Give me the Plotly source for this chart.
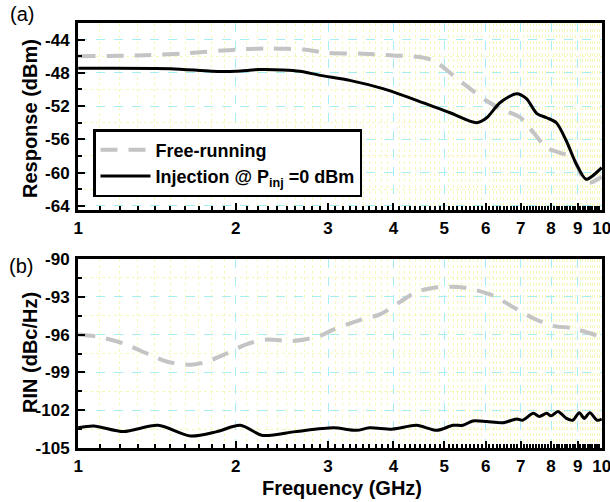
import plotly.graph_objects as go

# ---------------- data ----------------
freq_free_a = [1.0, 1.3, 1.6, 2.0, 2.3, 2.5, 2.7, 3.0, 3.5, 4.0, 4.5, 4.8, 5.2, 5.5,
               6.0, 6.4, 7.0, 7.3, 7.85, 8.3, 8.8, 9.2, 9.5, 10.0]
resp_free = [-46.0, -45.9, -45.65, -45.2, -45.05, -45.1, -45.2, -45.6, -45.7, -45.9,
             -46.1, -46.6, -48.3, -49.5, -51.3, -52.3, -53.4, -54.7, -57.0, -57.6,
             -58.2, -60.6, -61.2, -60.5]

freq_inj_a = [1.0, 1.5, 1.8, 2.0, 2.22, 2.46, 2.65, 2.9, 3.3, 3.82, 4.43, 5.13, 5.77,
              6.03, 6.39, 6.88, 7.18, 7.52, 7.85, 8.19, 8.56, 8.93, 9.33, 9.6, 10.0]
resp_inj = [-47.45, -47.5, -47.8, -47.8, -47.6, -47.65, -47.8, -48.3, -48.9, -49.9,
            -51.3, -52.8, -54.0, -53.4, -51.6, -50.5, -51.1, -52.9, -53.4, -54.0,
            -56.2, -58.9, -60.8, -60.4, -59.4]

freq_free_b = [1.0, 1.1, 1.22, 1.37, 1.48, 1.64, 1.76, 1.92, 2.1, 2.29, 2.57, 2.9,
               3.07, 3.45, 3.77, 4.12, 4.43, 4.76, 5.13, 5.52, 6.2, 6.76, 7.4, 8.05,
               8.8, 10.0]
rin_free = [-96.0, -96.2, -96.7, -97.6, -98.15, -98.4, -98.15, -97.5, -96.75, -96.4,
            -96.5, -96.1, -95.6, -94.85, -94.4, -93.4, -92.6, -92.3, -92.2, -92.3,
            -92.9, -93.8, -94.7, -95.3, -95.5, -96.2]

freq_inj_b = [1.0, 1.07, 1.22, 1.42, 1.64, 1.84, 2.04, 2.25, 2.6, 3.07, 3.4, 3.6,
              3.99, 4.43, 4.84, 5.2, 5.43, 5.67, 6.03, 6.47, 6.88, 7.06, 7.4, 7.6,
              7.85, 8.0, 8.25, 8.56, 8.8, 9.06, 9.26, 9.49, 9.8, 10.0]
rin_inj = [-103.4, -103.25, -103.7, -103.2, -104.05, -103.7, -103.2, -104.0, -103.7,
           -103.4, -103.6, -103.4, -103.5, -103.2, -103.6, -103.2, -103.2, -102.85,
           -102.9, -103.0, -102.7, -102.8, -102.25, -102.5, -102.25, -102.45, -102.1,
           -102.65, -102.8, -102.2, -102.65, -102.2, -102.8, -102.7]

x_tick_vals = [1, 2, 3, 4, 5, 6, 7, 8, 9, 10]
x_tick_text = ["1", "2", "3", "4", "5", "6", "7", "8", "9", "10"]
x_minor_vals = [round(d + k / 10, 2) for d in range(1, 10) for k in range(1, 10)]
resp_ticks = [-44, -48, -52, -56, -60, -64]
resp_minor = [-46, -50, -54, -58, -62]
rin_ticks = [-90, -93, -96, -99, -102, -105]
rin_minor = [-91.5, -94.5, -97.5, -100.5, -103.5]

name_free = "<b>Free-running</b>"
name_inj = "<b>Injection @ P<sub>inj</sub> =0 dBm</b>"

# ---------------- style ----------------
W, H = 610, 502
FONT = "Liberation Sans"
GRAY = "#c4c4c4"
CYAN = "#a6eef4"
YEL = "rgba(246,246,175,0.85)"

def px_x(p):
    return p / W

def px_y(p):
    return 1 - p / H

def bold(vals):
    return ["<b>%s</b>" % v for v in vals]

fig = go.Figure()

fig.add_trace(go.Scatter(x=freq_free_a, y=resp_free, mode="lines", name=name_free,
                         line=dict(color=GRAY, width=4, dash="17px,11px", shape="spline", smoothing=0.8),
                         xaxis="x", yaxis="y"))
fig.add_trace(go.Scatter(x=freq_inj_a, y=resp_inj, mode="lines", name=name_inj,
                         line=dict(color="black", width=3, shape="spline", smoothing=0.8),
                         xaxis="x", yaxis="y"))
fig.add_trace(go.Scatter(x=freq_free_b, y=rin_free, mode="lines", showlegend=False,
                         line=dict(color=GRAY, width=4, dash="17px,11px", shape="spline", smoothing=0.8),
                         xaxis="x2", yaxis="y2"))
fig.add_trace(go.Scatter(x=freq_inj_b, y=rin_inj, mode="lines", showlegend=False,
                         line=dict(color="black", width=3, shape="spline", smoothing=0.8),
                         xaxis="x2", yaxis="y2"))

tickfont = dict(family=FONT, size=17, color="black")

def xaxis_cfg(anchor):
    return dict(type="log", range=[-0.0005, 1.0005], domain=[px_x(78), px_x(602)], anchor=anchor,
                tickvals=x_tick_vals, ticktext=bold(x_tick_text), ticks="inside", ticklen=7,
                tickwidth=2, tickcolor="black", showline=True, linewidth=3, linecolor="black",
                mirror=True, showgrid=True, gridcolor=CYAN, griddash="dash", gridwidth=1,
                tickfont=tickfont, zeroline=False, ticklabelstandoff=1,
                ticklabeloverflow="allow", automargin=False,
                minor=dict(tickvals=x_minor_vals, ticks="inside", ticklen=4, tickwidth=1.5,
                           tickcolor="black", showgrid=True, gridcolor=YEL, griddash="dot",
                           gridwidth=1))

def yaxis_cfg(anchor, rng, dom, vals, minor_vals):
    return dict(range=rng, domain=dom, anchor=anchor, tickvals=vals, ticktext=bold(vals),
                ticks="inside", ticklen=7, tickwidth=2, tickcolor="black", showline=True,
                linewidth=3, linecolor="black", mirror=True, showgrid=True, gridcolor=CYAN,
                griddash="dash", gridwidth=1, tickfont=tickfont, zeroline=False,
                ticklabelstandoff=2, ticklabeloverflow="allow", automargin=False,
                minor=dict(tickvals=minor_vals, ticks="inside", ticklen=4, tickwidth=1.5,
                           tickcolor="black", showgrid=True, gridcolor=YEL, griddash="dot",
                           gridwidth=1))

fig.update_layout(
    width=W, height=H, margin=dict(l=0, r=0, t=0, b=0),
    paper_bgcolor="white", plot_bgcolor="white",
    xaxis=xaxis_cfg("y"),
    yaxis=yaxis_cfg("x", [-64.5, -42], [px_y(210), px_y(23)], resp_ticks, resp_minor),
    xaxis2=xaxis_cfg("y2"),
    yaxis2=yaxis_cfg("x2", [-105, -90], [px_y(448), px_y(259)], rin_ticks, rin_minor),
    legend=dict(x=px_x(93), y=px_y(129), xanchor="left", yanchor="top",
                bordercolor="black", borderwidth=2.5, bgcolor="white",
                font=dict(family=FONT, size=18, color="black"),
                itemwidth=50, tracegroupgap=0),
    showlegend=True,
)

ann_font = dict(family=FONT, size=20, color="black")
fig.add_annotation(text="<b>Response (dBm)</b>", x=px_x(30), y=px_y(119), xref="paper", yref="paper",
                   xanchor="center", yanchor="middle",
                   textangle=-90, showarrow=False, font=ann_font)
fig.add_annotation(text="<b>RIN (dBc/Hz)</b>", x=px_x(30), y=px_y(353), xref="paper", yref="paper",
                   xanchor="center", yanchor="middle",
                   textangle=-90, showarrow=False, font=ann_font)
fig.add_annotation(text="<b>Frequency (GHz)</b>", x=px_x(342), y=px_y(488), xref="paper", yref="paper",
                   xanchor="center", yanchor="middle",
                   showarrow=False, font=dict(family=FONT, size=20, color="black"))
fig.add_annotation(text="(a)", x=px_x(8), y=px_y(14), xref="paper", yref="paper",
                   xanchor="left", yanchor="middle", showarrow=False,
                   font=dict(family=FONT, size=20, color="black"))
fig.add_annotation(text="(b)", x=px_x(7), y=px_y(266), xref="paper", yref="paper",
                   xanchor="left", yanchor="middle", showarrow=False,
                   font=dict(family=FONT, size=20, color="black"))

fig.write_html("out.html")
